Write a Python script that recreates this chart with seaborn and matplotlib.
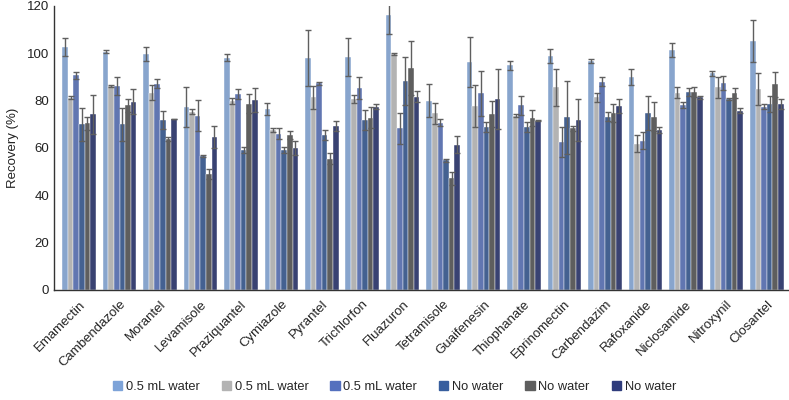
import pandas as pd
import matplotlib.pyplot as plt
import seaborn as sns

# compounds on the x axis
compounds = ['Emamectin', 'Cambendazole', 'Morantel', 'Levamisole', 'Praziquantel',
             'Cymiazole', 'Pyrantel', 'Trichlorfon', 'Fluazuron', 'Tetramisole',
             'Guaifenesin', 'Thiophanate', 'Eprinomectin', 'Carbendazim', 'Rafoxanide',
             'Niclosamide', 'Nitroxynil', 'Closantel']

series_keys = ['w1', 'w2', 'w3', 'n1', 'n2', 'n3']
series_labels = ['0.5 mL water', '0.5 mL water', '0.5 mL water',
                 'No water', 'No water', 'No water']

# recovery (%) per series
w1 = [102.8, 100.7, 99.7, 77.2, 98.2, 76.6, 98.0, 98.3, 116.2, 79.9,
      96.3, 94.9, 98.9, 96.8, 89.9, 101.5, 91.5, 105.2]
w2 = [81.3, 86.2, 83.4, 75.4, 79.8, 67.7, 81.4, 80.7, 99.7, 74.6,
      77.7, 73.7, 85.6, 81.4, 61.8, 83.4, 85.6, 84.8]
w3 = [90.8, 86.2, 87.2, 73.7, 82.7, 66.1, 87.3, 85.2, 68.3, 70.7,
      83.1, 78.0, 62.5, 88.0, 63.1, 78.0, 87.5, 77.5]
n1 = [70.1, 70.1, 71.8, 56.6, 59.2, 59.2, 65.5, 71.8, 88.3, 54.8,
      68.9, 68.9, 73.0, 73.2, 74.9, 83.7, 80.6, 78.6]
n2 = [70.4, 78.0, 63.9, 49.0, 78.7, 65.6, 55.5, 72.8, 93.9, 47.2,
      74.2, 72.5, 68.3, 74.9, 73.2, 83.7, 83.1, 86.9]
n3 = [74.2, 79.6, 72.4, 64.6, 80.3, 60.0, 69.2, 77.5, 81.7, 61.4,
      80.7, 71.5, 71.8, 77.7, 67.6, 81.4, 75.8, 78.6]

# standard deviations
w1_err = [3.8, 0.5, 3.0, 8.4, 1.4, 2.6, 12.0, 8.0, 8.0, 7.0,
          10.5, 2.0, 2.8, 0.8, 3.3, 2.9, 0.9, 8.9]
w2_err = [0.5, 0.3, 3.1, 1.0, 1.2, 0.9, 4.9, 1.6, 0.5, 4.3,
          8.9, 0.7, 7.8, 2.0, 3.5, 2.4, 4.3, 6.7]
w3_err = [1.5, 3.7, 2.0, 6.6, 2.2, 2.5, 0.5, 4.7, 6.6, 1.6,
          9.4, 4.0, 6.2, 1.9, 3.5, 1.3, 2.9, 1.0]
n1_err = [7.0, 7.0, 3.8, 0.5, 1.2, 1.2, 2.0, 4.2, 10.3, 0.7,
          2.1, 2.1, 15.5, 1.9, 7.2, 1.7, 0.5, 3.5]
n2_err = [2.8, 2.7, 0.8, 2.3, 4.0, 1.7, 2.2, 4.4, 11.5, 2.7,
          5.5, 3.4, 1.0, 3.8, 6.2, 2.1, 2.1, 5.2]
n3_err = [8.2, 5.2, 0.0, 4.8, 4.9, 3.1, 2.1, 1.0, 2.2, 3.5,
          12.5, 0.3, 8.8, 3.1, 1.4, 0.6, 1.2, 2.2]

colors = ['#7DA3D8', '#B3B3B3', '#5470BE', '#375E9E', '#5E5E5E', '#2F3C7C']

values = [w1, w2, w3, n1, n2, n3]
errors = [w1_err, w2_err, w3_err, n1_err, n2_err, n3_err]

rows = []
for key, vals in zip(series_keys, values):
    for c, v in zip(compounds, vals):
        rows.append({'Compound': c, 'Series': key, 'Recovery': v})
df = pd.DataFrame(rows)

sns.set_style('white')
plt.rcParams['font.family'] = ['Liberation Sans', 'DejaVu Sans']

fig = plt.figure(figsize=(7.89, 4.0), dpi=100)
ax = fig.add_axes([0.0684, 0.275, 0.9316, 0.71])

sns.barplot(data=df, x='Compound', y='Recovery', hue='Series', hue_order=series_keys,
            palette=colors, width=0.83, errorbar=None, legend=False, ax=ax,
            edgecolor='white', linewidth=0.3)

# error bars on top of each bar
for container, errs in zip(ax.containers, errors):
    xs = [b.get_x() + b.get_width() / 2 for b in container]
    ys = [b.get_height() for b in container]
    ax.errorbar(xs, ys, yerr=errs, fmt='none', ecolor='#5F5F5F',
                elinewidth=1.0, capsize=2.2, capthick=1.0)

ax.set_ylim(0, 120)
ax.set_xlim(-0.62, 17.55)
ax.set_yticks(range(0, 121, 20))
ax.set_xlabel('')
ax.set_ylabel('Recovery (%)', fontsize=9.5, color='#222222', labelpad=6)
ax.tick_params(axis='both', length=0, labelsize=9.5, colors='#222222')
ax.tick_params(axis='x', pad=6)
plt.setp(ax.get_xticklabels(), rotation=45, ha='right', rotation_mode='anchor')

sns.despine(ax=ax, top=True, right=True)
for side in ['left', 'bottom']:
    ax.spines[side].set_color('#333333')
    ax.spines[side].set_linewidth(1.0)

handles = [plt.Rectangle((0, 0), 1, 1, color=c) for c in colors]
fig.legend(handles, series_labels, loc='lower center', ncol=6, frameon=False,
           fontsize=9.3, handlelength=0.7, handleheight=0.7, handletextpad=0.3,
           columnspacing=1.7, bbox_to_anchor=(0.5, -0.012))

fig.savefig('out.png', dpi=100)
